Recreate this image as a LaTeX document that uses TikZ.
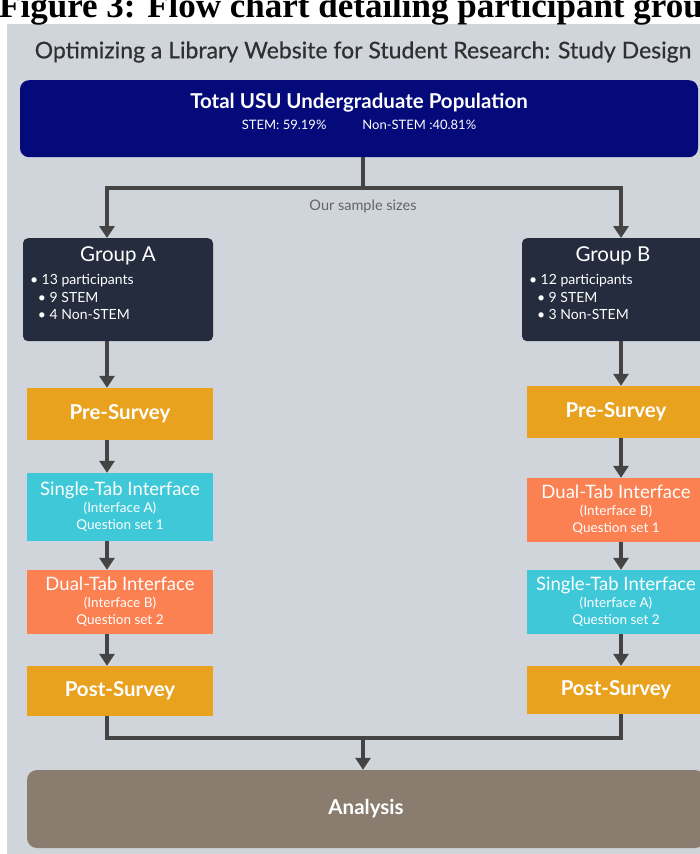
\documentclass[tikz,border=0pt]{standalone}
\usepackage{fontspec}
\setmainfont{Lato}
\newfontfamily\capfont{Liberation Serif}
\newfontfamily\titlefont{Lato}[FakeBold=0.5]
\usetikzlibrary{arrows.meta,positioning}
\definecolor{panelgray}{RGB}{208,213,220}
\definecolor{popnavy}{RGB}{5,10,122}
\definecolor{groupdark}{RGB}{37,44,61}
\definecolor{surveygold}{RGB}{233,162,30}
\definecolor{singlecyan}{RGB}{62,200,216}
\definecolor{dualcoral}{RGB}{251,128,82}
\definecolor{analysisbrown}{RGB}{138,125,111}
\definecolor{flowgray}{RGB}{68,68,68}
\definecolor{titlegray}{RGB}{48,48,48}
\begin{document}
\begin{tikzpicture}[x=1pt, y=-1pt,
  every node/.style={inner sep=0pt, text=white},
  box/.style={rectangle, align=center},
  survey/.style={box, fill=surveygold, font=\bfseries\fontsize{20.5}{22}\selectfont},
  single/.style={box, fill=singlecyan, font=\fontsize{13.5}{17}\selectfont},
  dual/.style={box, fill=dualcoral, font=\fontsize{13.5}{17}\selectfont},
  group/.style={rectangle, rounded corners=5pt, fill=groupdark,
    inner xsep=7pt, inner ysep=8pt, anchor=north},
  flow/.style={draw=flowgray, line width=3.8pt},
  arr/.style={flow, -{Triangle[width=15pt,length=12pt]}}]

  \useasboundingbox (0,0) rectangle (700,854);
  \clip (0,0) rectangle (700,854);
  \fill[panelgray] (7,24) rectangle (710,860);

  % heading
  \node[anchor=base west, text=black, font=\capfont\bfseries\fontsize{35}{35}\selectfont]
    (caption) at (-1,17) {Figure 3: Flow chart detailing participant groups};
  \node[text=titlegray, font=\titlefont\fontsize{23}{25}\selectfont] (title) at (363,52)
    {Optimizing a Library Website for Student Research: Study Design};

  % population
  \node[rectangle, rounded corners=9pt, fill=popnavy, inner xsep=0pt, inner ysep=13pt,
    anchor=north] (pop) at (359,80)
    {\parbox[c][51pt][t]{678pt}{\centering
      {\bfseries\fontsize{20.5}{22}\selectfont Total USU Undergraduate Population}\par
      \vspace{7pt}\fontsize{13}{14}\selectfont STEM: 59.19\%\hspace{36pt}Non-STEM :40.81\%\par}};
  \coordinate (split) at (363,188);
  \coordinate (colA) at (107,0);
  \coordinate (colB) at (621,0);
  \node[text=titlegray!75, font=\fontsize{14.5}{16}\selectfont] (sample) at (363,206) {Our sample sizes};

  % groups
  \node[group] (groupA) at (118,238)
    {\parbox[c][87pt][t]{176pt}{\centering\fontsize{20.5}{22}\selectfont Group A\par
      \raggedright\fontsize{14}{17.5}\selectfont\vspace{6pt}
      • 13 participants\par \hspace*{8pt}• 9 STEM\par \hspace*{8pt}• 4 Non-STEM\par}};
  \node[group] (groupB) at (620,238)
    {\parbox[c][87pt][t]{182pt}{\raggedright\fontsize{20.5}{22}\selectfont\makebox[168pt]{Group B}\par
      \fontsize{14}{17.5}\selectfont\vspace{6pt}
      • 12 participants\par \hspace*{8pt}• 9 STEM\par \hspace*{8pt}• 3 Non-STEM\par}};

  % group A steps
  \node[survey, minimum width=186pt, minimum height=52pt] (preA) at (120,414) {Pre-Survey};
  \node[single, minimum width=186pt, minimum height=68pt] (singleA) at (120,507)
    {{\fontsize{18.5}{18}\selectfont Single-Tab Interface}\\(Interface A)\\Question set 1};
  \node[dual, minimum width=186pt, minimum height=64pt] (dualA) at (120,602)
    {{\fontsize{18.5}{18}\selectfont Dual-Tab Interface}\\(Interface B)\\Question set 2};
  \node[survey, minimum width=186pt, minimum height=50pt] (postA) at (120,691) {Post-Survey};

  % group B steps
  \node[survey, minimum width=178pt, minimum height=52pt] (preB) at (616,412) {Pre-Survey};
  \node[dual, minimum width=178pt, minimum height=64pt] (dualB) at (616,510)
    {{\fontsize{18.5}{18}\selectfont Dual-Tab Interface}\\(Interface B)\\Question set 1};
  \node[single, minimum width=178pt, minimum height=64pt] (singleB) at (616,602)
    {{\fontsize{18.5}{18}\selectfont Single-Tab Interface}\\(Interface A)\\Question set 2};
  \node[survey, minimum width=178pt, minimum height=48pt] (postB) at (616,690) {Post-Survey};

  \node[rectangle, rounded corners=10pt, fill=analysisbrown, minimum width=678pt,
    minimum height=78pt, font=\bfseries\fontsize{20.5}{22}\selectfont] (analysis) at (366,809) {Analysis};

  % connectors
  \draw[flow] (pop.south -| split) -- (split);
  \draw[arr] (split) -| (groupA.north -| colA);
  \draw[arr] (split) -| (groupB.north -| colB);
  \draw[arr] (groupA.south -| colA) -- (preA.north -| colA);
  \draw[arr] (preA.south -| colA) -- (singleA.north -| colA);
  \draw[arr] (singleA.south -| colA) -- (dualA.north -| colA);
  \draw[arr] (dualA.south -| colA) -- (postA.north -| colA);
  \draw[arr] (groupB.south -| colB) -- (preB.north -| colB);
  \draw[arr] (preB.south -| colB) -- (dualB.north -| colB);
  \draw[arr] (dualB.south -| colB) -- (singleB.north -| colB);
  \draw[arr] (singleB.south -| colB) -- (postB.north -| colB);
  \coordinate (join) at (363,738);
  \draw[flow] (postA.south -| colA) |- (join) -| (postB.south -| colB);
  \draw[arr] (join) -- (analysis.north -| join);
\end{tikzpicture}
\end{document}
